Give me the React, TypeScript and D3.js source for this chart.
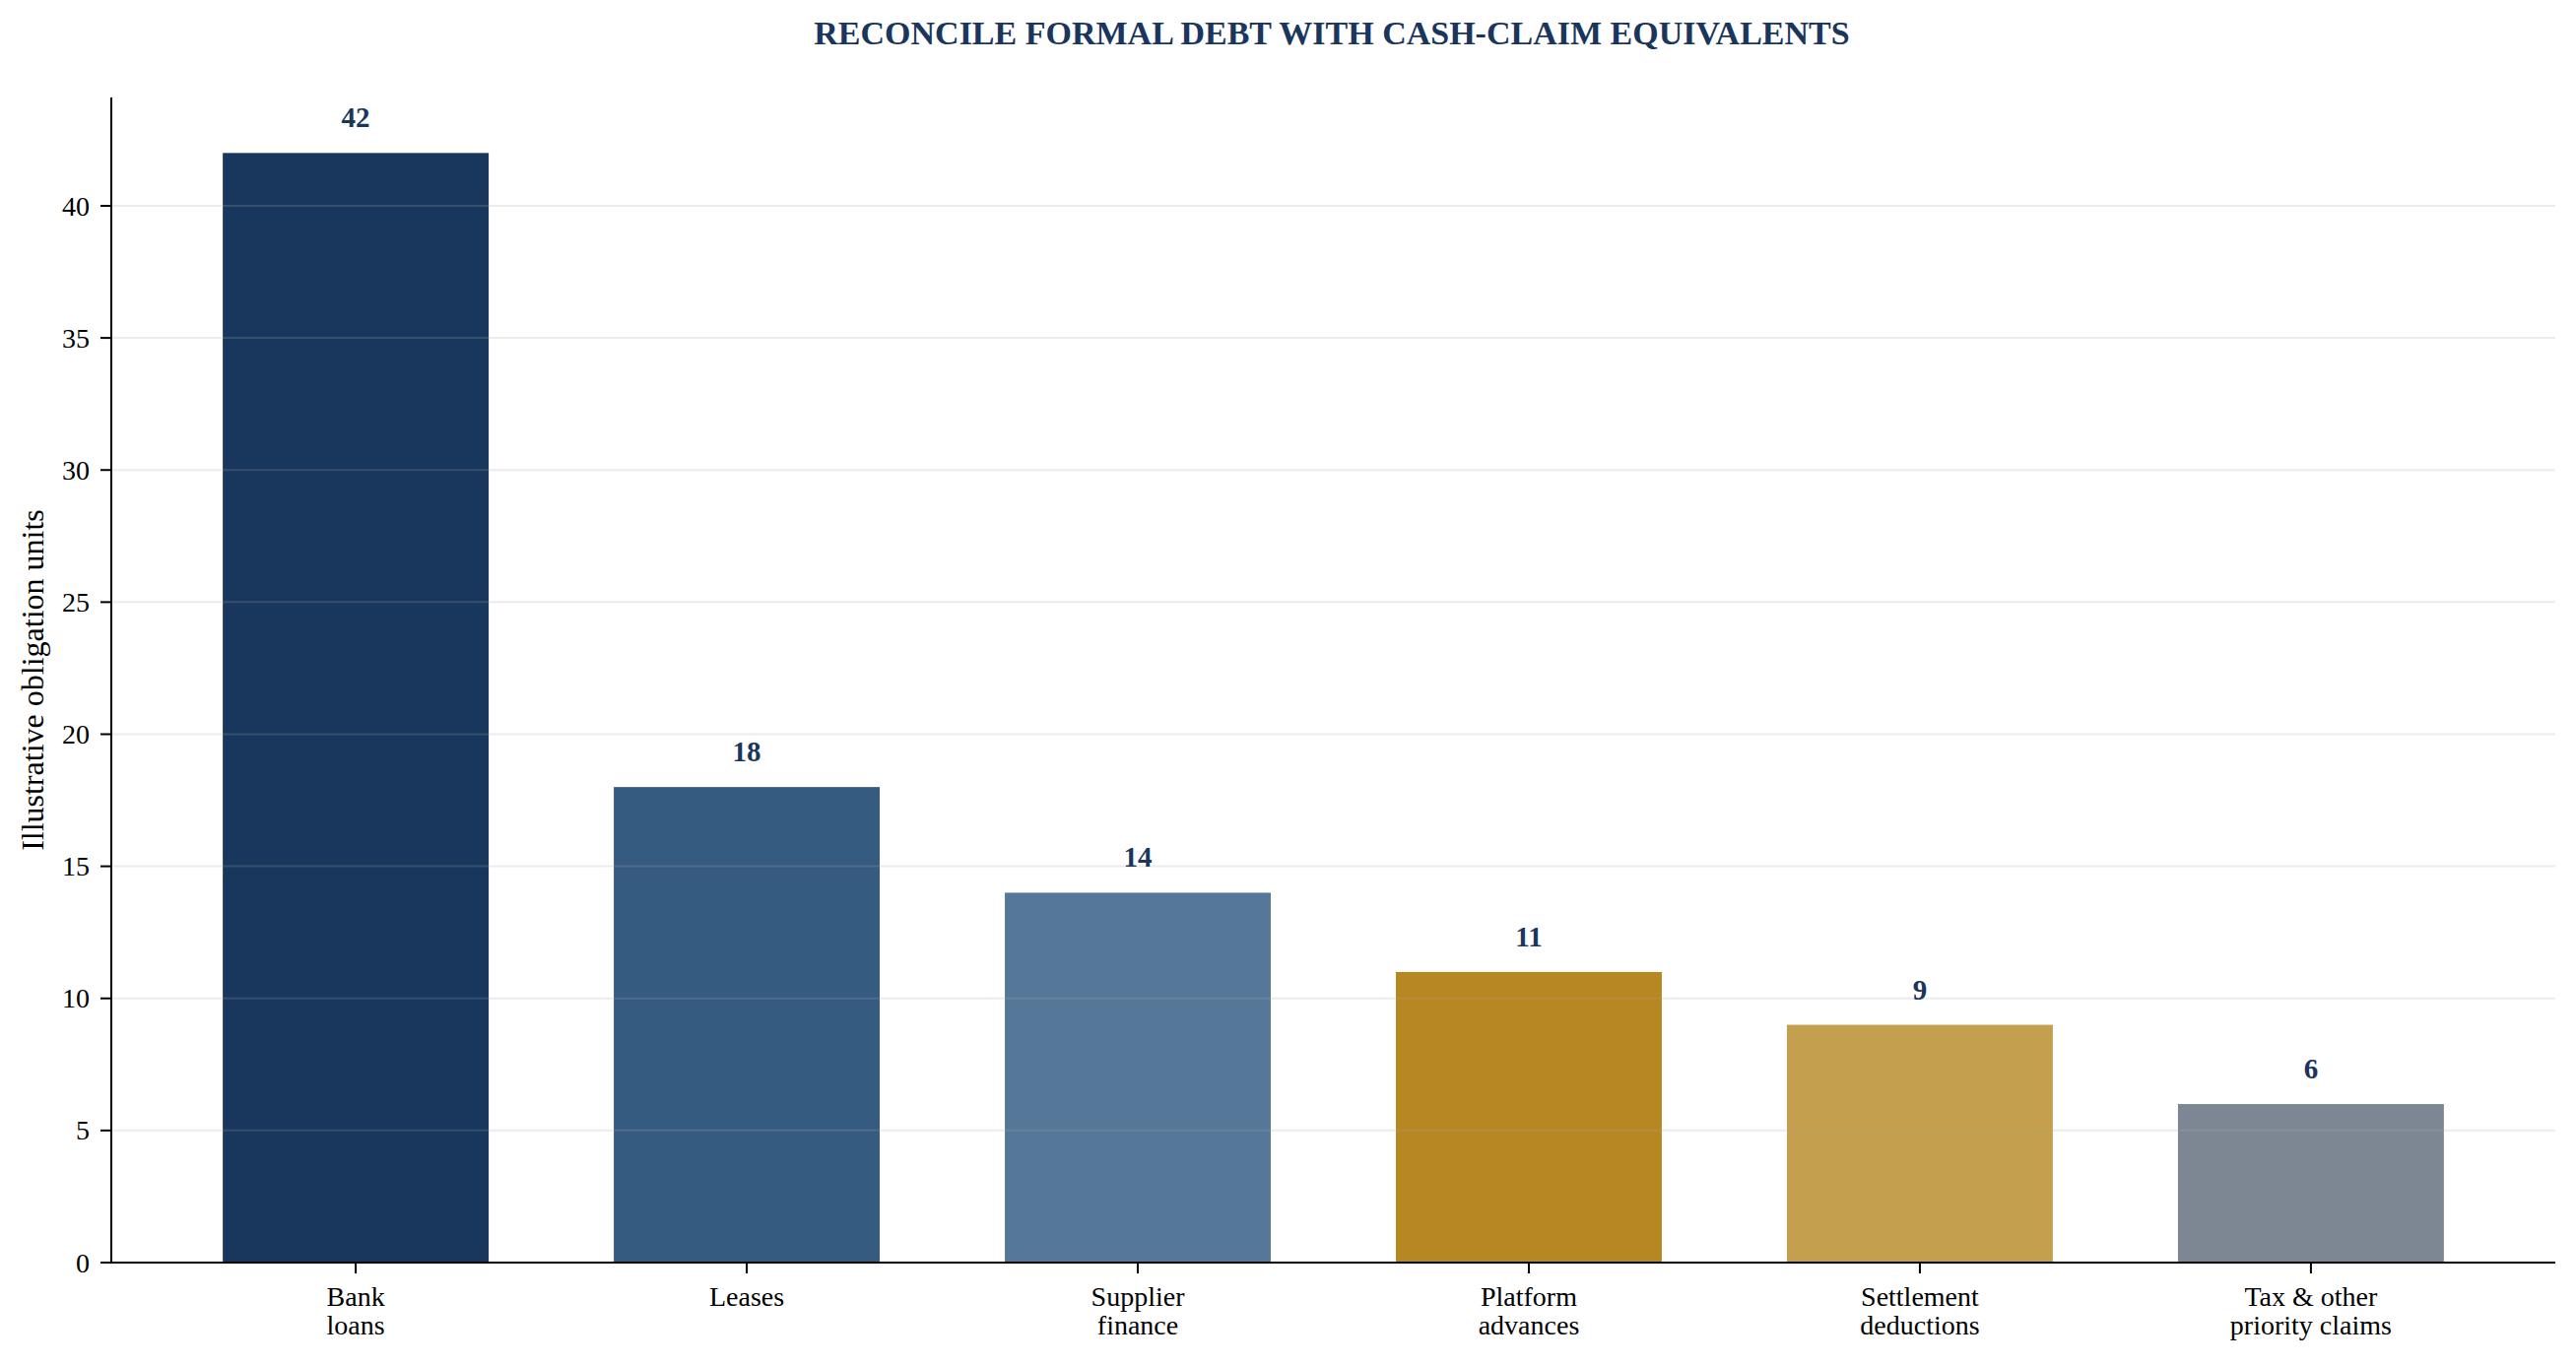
import * as d3 from "d3";

const width = 2615;
const height = 1386;
const margin = { top: 99, right: 21, bottom: 104, left: 113 };

const categories = [
    ["Bank", "loans"],
    ["Leases"],
    ["Supplier", "finance"],
    ["Platform", "advances"],
    ["Settlement", "deductions"],
    ["Tax & other", "priority claims"],
];
const values = [42, 18, 14, 11, 9, 6];
const barColors = ["#19365c", "#365b81", "#557899", "#b78722", "#c49f4e", "#7d8794"];
const yTicks = [0, 5, 10, 15, 20, 25, 30, 35, 40];

const title = "RECONCILE FORMAL DEBT WITH CASH-CLAIM EQUIVALENTS";
const yLabel = "Illustrative obligation units";

const navy = "#1a365d";
const font = "'Liberation Serif', 'Times New Roman', serif";

export default function App() {
    const innerW = width - margin.left - margin.right;
    const innerH = height - margin.top - margin.bottom;

    const x = d3.scaleBand<number>()
        .domain(d3.range(values.length))
        .range([0, innerW])
        .paddingInner(0.32)
        .paddingOuter(0.285);

    const y = d3.scaleLinear()
        .domain([0, d3.max(values)! * 1.05])
        .range([innerH, 0]);

    return (
        <svg
            width={width}
            height={height}
            style={{ position: "absolute", left: 0, top: 0, background: "#fff" }}
            fontFamily={font}
        >
            <text x={1352} y={45} textAnchor="middle" fontSize={34} fontWeight="bold" fill={navy}>
                {title}
            </text>

            <g transform={`translate(${margin.left},${margin.top})`}>
                {/* bars */}
                {values.map((v, i) => (
                    <rect
                        key={i}
                        x={x(i)}
                        y={y(v)}
                        width={x.bandwidth()}
                        height={innerH - y(v)}
                        fill={barColors[i]}
                    />
                ))}

                {/* grid sits above the bars, faint */}
                {yTicks.filter(t => t > 0).map(t => (
                    <line
                        key={t}
                        x1={0}
                        x2={innerW}
                        y1={y(t)}
                        y2={y(t)}
                        stroke="#a8a8a8"
                        strokeOpacity={0.22}
                        strokeWidth={2}
                    />
                ))}

                {/* value labels */}
                {values.map((v, i) => (
                    <text
                        key={i}
                        x={x(i)! + x.bandwidth() / 2}
                        y={y(v) - 26}
                        textAnchor="middle"
                        fontSize={29}
                        fontWeight="bold"
                        fill={navy}
                    >
                        {v}
                    </text>
                ))}

                {/* y axis */}
                <line x1={0} x2={0} y1={0} y2={innerH} stroke="#000" strokeWidth={2} />
                {yTicks.map(t => (
                    <g key={t} transform={`translate(0,${y(t)})`}>
                        <line x1={-11} x2={0} stroke="#000" strokeWidth={2} />
                        <text x={-22} dy="0.34em" textAnchor="end" fontSize={28} fill="#000">
                            {t}
                        </text>
                    </g>
                ))}

                {/* x axis */}
                <line x1={0} x2={innerW} y1={innerH} y2={innerH} stroke="#000" strokeWidth={2} />
                {categories.map((lines, i) => {
                    const cx = x(i)! + x.bandwidth() / 2;
                    return (
                        <g key={i} transform={`translate(${cx},${innerH})`}>
                            <line y1={0} y2={11} stroke="#000" strokeWidth={2} />
                            {lines.map((s, j) => (
                                <text key={j} y={44 + j * 29} textAnchor="middle" fontSize={28} fill="#000">
                                    {s}
                                </text>
                            ))}
                        </g>
                    );
                })}
            </g>

            <text
                transform={`translate(44,${margin.top + innerH / 2}) rotate(-90)`}
                textAnchor="middle"
                fontSize={32}
                fill="#000"
            >
                {yLabel}
            </text>
        </svg>
    );
}
